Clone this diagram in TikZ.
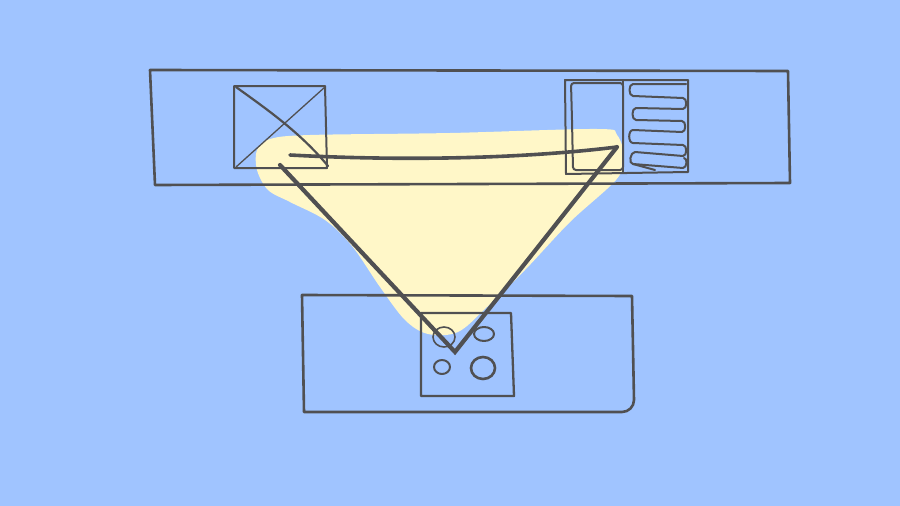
\documentclass[tikz,border=0pt]{standalone}
\begin{document}
\begin{tikzpicture}[x=1pt,y=-1pt,
  sk/.style={draw=linec,line width=2.6pt,line cap=round,line join=round},
  skthin/.style={draw=linec,line width=2pt,line cap=round,line join=round},
  skthick/.style={draw=linec,line width=4.2pt,line cap=round,line join=miter}]
\definecolor{bgc}{RGB}{160,196,255}
\definecolor{blobc}{RGB}{255,247,200}
\definecolor{linec}{RGB}{80,80,82}
\fill[bgc] (0,0) rectangle (900,506);
\useasboundingbox (0,0) rectangle (900,506);
% yellow blob
\fill[blobc] plot[smooth cycle,tension=0.55] coordinates {
 (270,139) (310,135) (450,133) (597,129) (617,135) (624,158) (616,180)
 (570,222) (525,270) (487,307) (458,332) (428,334) (405,320) (380,287)
 (352,246) (325,220) (290,202) (268,190) (257,170) (257,150)};
% top band
\draw[sk] (150,70) -- (788,71) -- (790,183) -- (155,185) -- cycle;
% left image placeholder
\draw[skthin] (234,86) -- (325,86) -- (327,168) -- (234,168) -- cycle;
\draw[skthin,line width=2.2pt] (236,87) .. controls (265,108) and (300,132) .. (328,166);
\draw[draw=linec,line width=1.3pt] (325,87) -- (236,167);
% right box with text lines
\draw[skthin] (565,80) -- (688,80) -- (688,172) -- (566,174) -- cycle;
\draw[skthin,rounded corners=3pt] (571,83) -- (623,83) -- (623,170) -- (573,170) -- (572,120) -- cycle;
\draw[skthin] (623,80) -- (623,172);
\draw[skthin] (686,84) -- (633,84) to[out=180,in=180] (633,96)
  -- (683,98) to[out=0,in=0] (683,109) -- (636,108) to[out=180,in=180] (636,120)
  -- (682,121) to[out=0,in=0] (682,132) -- (633,130) to[out=180,in=180] (633,143)
  -- (683,145) to[out=0,in=0] (683,156) -- (635,152) to[out=180,in=180] (633,164)
  -- (683,168) to[out=0,in=0] (684,158);
\draw[skthin] (633,164) -- (655,170);
% bottom panel
\draw[sk] (302,295) -- (632,296) -- (634,400) to[out=-90,in=0] (622,412) -- (304,412) -- cycle;
\draw[skthin,line width=2.3pt] (421,313) -- (511,313) -- (514,396) -- (421,396) -- cycle;
\draw[skthin,line width=1.6pt] (444,337) ellipse [x radius=11, y radius=10];
\draw[skthin] (484,334) ellipse [x radius=10, y radius=7];
\draw[skthin] (442,367) ellipse [x radius=8, y radius=7];
\draw[sk] (483,368) ellipse [x radius=12, y radius=11];
% connectors
\coordinate (L) at (280,165);
\coordinate (A) at (290,155);
\coordinate (R) at (617,147);
\coordinate (B) at (455,352);
\draw[skthick,line width=3.6pt] (A) .. controls (400,161) and (520,159) .. (R);
\draw[skthick] (L) -- (B) -- (R);
\end{tikzpicture}
\end{document}
